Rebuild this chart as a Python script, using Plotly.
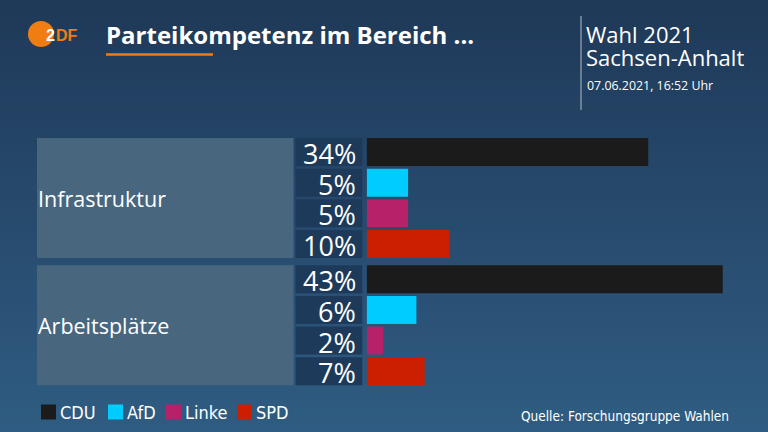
import plotly.graph_objects as go

# ---------------- data ----------------
categories = ["Infrastruktur", "Arbeitsplätze"]
parties = ["CDU", "AfD", "Linke", "SPD"]
party_colors = ["#1b1b1b", "#00ccff", "#b7216a", "#cc1e00"]
values_infrastruktur = [34, 5, 5, 10]
values_arbeitsplaetze = [43, 6, 2, 7]
values = [values_infrastruktur, values_arbeitsplaetze]
title_text = "Parteikompetenz im Bereich ..."
header_right = ["Wahl 2021", "Sachsen-Anhalt"]
date_text = "07.06.2021, 16:52 Uhr"
source_text = "Quelle: Forschungsgruppe Wahlen"

# ---------------- layout helpers ----------------
W, H = 768, 432
FONT = "Open Sans, Noto Sans, sans-serif"
NARROW = "Liberation Sans Narrow, DejaVu Sans Condensed, sans-serif"

def px(x):
    return x / W

def py(y):
    return 1 - y / H

PX_PER_PCT = 8.28
BAR_X0 = 366.7
ROW_PX = 30.67
GROUP_STEP = 4.15
BAR_W = 28 / ROW_PX
Y0_PX = 152  # center of first row in pixels

fig = go.Figure()
shapes = []
annotations = []

# background vertical gradient
top_c = (31, 57, 88)
bot_c = (47, 92, 130)
N = 54
for k in range(N):
    t = k / (N - 1)
    c = tuple(int(round(top_c[i] + (bot_c[i] - top_c[i]) * t)) for i in range(3))
    shapes.append(dict(type="rect", xref="paper", yref="paper", layer="below",
                       x0=0, x1=1, y0=1 - k / N, y1=1 - (k + 1) / N + (-0.002 if k < N - 1 else 0),
                       fillcolor="rgb(%d,%d,%d)" % c, line=dict(width=0)))

# bars per party
for pi, party in enumerate(parties):
    ys, xs, = [], []
    for gi, cat in enumerate(categories):
        ys.append(gi * GROUP_STEP + pi)
        xs.append(values[gi][pi])
    fig.add_trace(go.Bar(orientation="h", x=xs, y=ys, width=BAR_W,
                         marker=dict(color=party_colors[pi], line=dict(width=0)),
                         name=party, showlegend=False, hoverinfo="skip"))

for gi, cat in enumerate(categories):
    g0 = gi * GROUP_STEP
    # category box
    shapes.append(dict(type="rect", xref="paper", yref="y", layer="below",
                       x0=px(37), x1=px(293.5), y0=g0 - BAR_W / 2, y1=g0 + 3 + BAR_W / 2,
                       fillcolor="#48677f", line=dict(width=0)))
    annotations.append(dict(xref="paper", yref="y", x=px(36), y=g0 + 1.5,
                            text=cat, showarrow=False, xanchor="left", yanchor="middle",
                            height=26,
                            font=dict(family=FONT, size=21.5, color="white")))
    for pi in range(len(parties)):
        yy = g0 + pi
        shapes.append(dict(type="rect", xref="paper", yref="y", layer="below",
                           x0=px(295.5), x1=px(362.3), y0=yy - BAR_W / 2, y1=yy + BAR_W / 2,
                           fillcolor="#1e3a5b", line=dict(width=0)))
        annotations.append(dict(xref="paper", yref="y", x=px(358), y=yy + 0.03,
                                text="%d%%" % values[gi][pi], showarrow=False,
                                xanchor="right", yanchor="middle", height=28,
                                font=dict(family=FONT, size=27, color="white")))

# logo
shapes.append(dict(type="circle", xref="paper", yref="paper",
                   x0=px(28), x1=px(54), y0=py(47), y1=py(21),
                   fillcolor="#f07d12", line=dict(width=0)))
annotations.append(dict(xref="paper", yref="paper", x=px(44), y=py(35.5),
                        text="<b>2</b>", showarrow=False, xanchor="left", yanchor="middle",
                        font=dict(family="Liberation Sans, sans-serif", size=16, color="white")))
annotations.append(dict(xref="paper", yref="paper", x=px(54), y=py(35.5),
                        text="<b>DF</b>", showarrow=False, xanchor="left", yanchor="middle",
                        font=dict(family="Liberation Sans, sans-serif", size=16, color="#f07d12")))

# title
annotations.append(dict(xref="paper", yref="paper", x=px(104), y=py(35),
                        text="<b>" + title_text + "</b>", showarrow=False,
                        xanchor="left", yanchor="middle",
                        font=dict(family=FONT, size=24, color="white")))
shapes.append(dict(type="rect", xref="paper", yref="paper",
                   x0=px(106), x1=px(213), y0=py(55.7), y1=py(53.3),
                   fillcolor="#f07d12", line=dict(width=0)))

# top right
shapes.append(dict(type="line", xref="paper", yref="paper",
                   x0=px(581), x1=px(581), y0=py(16), y1=py(110),
                   line=dict(color="#9aa9b8", width=1.2)))
annotations.append(dict(xref="paper", yref="paper", x=px(584), y=py(34),
                        text=header_right[0], showarrow=False, xanchor="left", yanchor="middle",
                        height=22,
                        font=dict(family=FONT, size=22, color="white")))
annotations.append(dict(xref="paper", yref="paper", x=px(584), y=py(57),
                        text=header_right[1], showarrow=False, xanchor="left", yanchor="middle",
                        height=22,
                        font=dict(family=FONT, size=22, color="white")))
annotations.append(dict(xref="paper", yref="paper", x=px(585), y=py(85),
                        text=date_text, showarrow=False, xanchor="left", yanchor="middle",
                        font=dict(family=FONT, size=12.4, color="white")))

# legend (manual)
leg_x = [41, 108, 166, 237]
for pi, party in enumerate(parties):
    x0 = leg_x[pi]
    shapes.append(dict(type="rect", xref="paper", yref="paper",
                       x0=px(x0), x1=px(x0 + 15), y0=py(419.5), y1=py(404.5),
                       fillcolor=party_colors[pi], line=dict(width=0)))
    annotations.append(dict(xref="paper", yref="paper", x=px(x0 + 17), y=py(412.5),
                            text=party, showarrow=False, xanchor="left", yanchor="middle",
                            font=dict(family=NARROW, size=18, color="white")))

annotations.append(dict(xref="paper", yref="paper", x=px(731), y=py(416),
                        text=source_text, showarrow=False, xanchor="right", yanchor="middle",
                        font=dict(family=NARROW, size=13.5, color="white")))

y_top = -Y0_PX / ROW_PX
y_bot = (H - Y0_PX) / ROW_PX

fig.update_layout(
    width=W, height=H,
    margin=dict(l=0, r=0, t=0, b=0, pad=0),
    paper_bgcolor="#26486b", plot_bgcolor="rgba(0,0,0,0)",
    barmode="overlay",
    xaxis=dict(domain=[px(BAR_X0), 1], range=[0, (W - BAR_X0) / PX_PER_PCT],
               visible=False, fixedrange=True),
    yaxis=dict(domain=[0, 1], range=[y_bot, y_top], visible=False, fixedrange=True),
    shapes=shapes, annotations=annotations, showlegend=False,
)

fig.write_html("out.html", config=dict(displayModeBar=False))
